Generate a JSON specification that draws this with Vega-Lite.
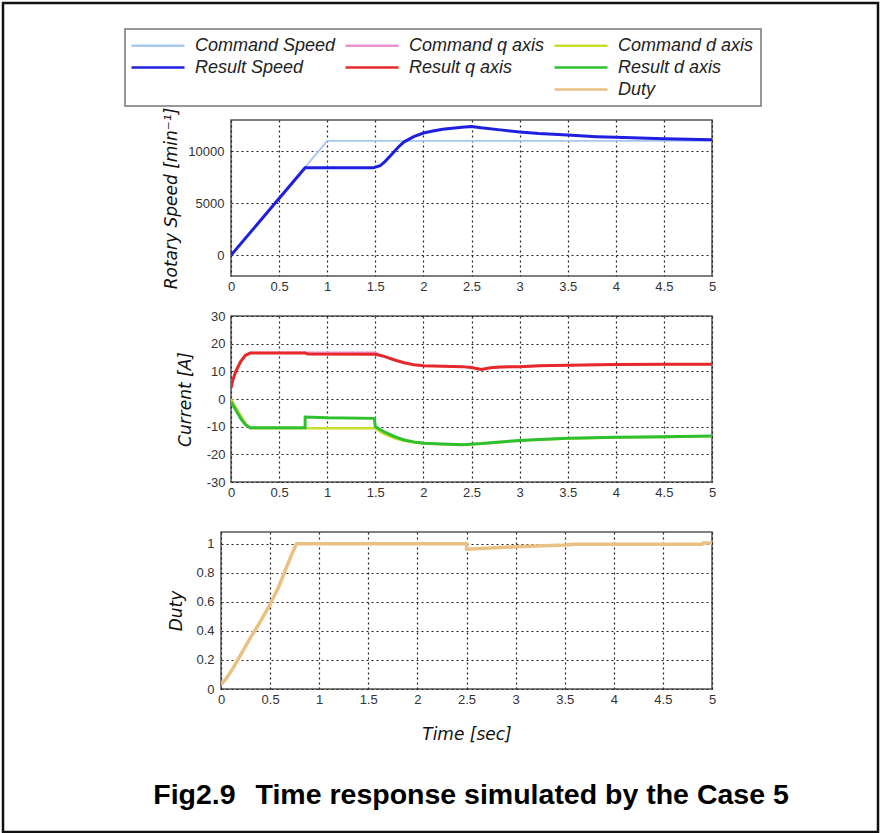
{
  "$schema": "https://vega.github.io/schema/vega-lite/v6.json",
  "background": "white",
  "padding": {"left": 1, "top": 1, "right": 1, "bottom": 1},
  "config": {
    "font": "Liberation Sans",
    "view": {"stroke": "#555", "strokeWidth": 1.5},
    "axis": {
      "grid": true, "gridColor": "#222", "gridDash": [2, 3], "gridWidth": 1.2,
      "domain": false, "ticks": false, "labelFlush": false, "labelOverlap": false,
      "labelFont": "Liberation Sans", "labelFontSize": 13, "labelColor": "#333",
      "titleFont": "DejaVu Sans", "titleFontStyle": "italic", "titleFontWeight": "normal",
      "titleFontSize": 17, "titleColor": "#111", "labelPadding": 4
    }
  },
  "datasets": {
    "speed": [
      {"t": 0, "v": 0, "s": "Command Speed"},
      {"t": 1.0, "v": 11000, "s": "Command Speed"},
      {"t": 5, "v": 11000, "s": "Command Speed"},
      {"t": 0, "v": 0, "s": "Result Speed"},
      {"t": 0.77, "v": 8400, "s": "Result Speed"},
      {"t": 1.48, "v": 8400, "s": "Result Speed"},
      {"t": 1.55, "v": 8600, "s": "Result Speed"},
      {"t": 1.6, "v": 9000, "s": "Result Speed"},
      {"t": 1.65, "v": 9500, "s": "Result Speed"},
      {"t": 1.7, "v": 10000, "s": "Result Speed"},
      {"t": 1.75, "v": 10500, "s": "Result Speed"},
      {"t": 1.8, "v": 10900, "s": "Result Speed"},
      {"t": 1.9, "v": 11400, "s": "Result Speed"},
      {"t": 2.0, "v": 11750, "s": "Result Speed"},
      {"t": 2.1, "v": 11950, "s": "Result Speed"},
      {"t": 2.2, "v": 12100, "s": "Result Speed"},
      {"t": 2.3, "v": 12200, "s": "Result Speed"},
      {"t": 2.4, "v": 12300, "s": "Result Speed"},
      {"t": 2.5, "v": 12380, "s": "Result Speed"},
      {"t": 2.6, "v": 12250, "s": "Result Speed"},
      {"t": 2.8, "v": 12050, "s": "Result Speed"},
      {"t": 3.0, "v": 11850, "s": "Result Speed"},
      {"t": 3.2, "v": 11700, "s": "Result Speed"},
      {"t": 3.5, "v": 11550, "s": "Result Speed"},
      {"t": 3.8, "v": 11400, "s": "Result Speed"},
      {"t": 4.0, "v": 11330, "s": "Result Speed"},
      {"t": 4.5, "v": 11200, "s": "Result Speed"},
      {"t": 5.0, "v": 11100, "s": "Result Speed"}
    ],
    "current": [
      {"t": 0, "i": 4, "s": "Command q axis"},
      {"t": 0.02, "i": 7, "s": "Command q axis"},
      {"t": 0.05, "i": 10, "s": "Command q axis"},
      {"t": 0.1, "i": 13.5, "s": "Command q axis"},
      {"t": 0.15, "i": 15.8, "s": "Command q axis"},
      {"t": 0.2, "i": 16.7, "s": "Command q axis"},
      {"t": 0.77, "i": 16.8, "s": "Command q axis"},
      {"t": 1.5, "i": 16.8, "s": "Command q axis"},
      {"t": 1.6, "i": 15.3, "s": "Command q axis"},
      {"t": 1.7, "i": 14.1, "s": "Command q axis"},
      {"t": 1.8, "i": 13.1, "s": "Command q axis"},
      {"t": 1.9, "i": 12.4, "s": "Command q axis"},
      {"t": 2.0, "i": 12.0, "s": "Command q axis"},
      {"t": 2.4, "i": 11.7, "s": "Command q axis"},
      {"t": 2.5, "i": 11.4, "s": "Command q axis"},
      {"t": 2.6, "i": 10.8, "s": "Command q axis"},
      {"t": 2.7, "i": 11.3, "s": "Command q axis"},
      {"t": 3.0, "i": 11.7, "s": "Command q axis"},
      {"t": 3.5, "i": 12.2, "s": "Command q axis"},
      {"t": 4.0, "i": 12.5, "s": "Command q axis"},
      {"t": 5.0, "i": 12.6, "s": "Command q axis"},
      {"t": 0, "i": 4, "s": "Result q axis"},
      {"t": 0.02, "i": 7, "s": "Result q axis"},
      {"t": 0.05, "i": 10, "s": "Result q axis"},
      {"t": 0.1, "i": 13.5, "s": "Result q axis"},
      {"t": 0.15, "i": 15.8, "s": "Result q axis"},
      {"t": 0.2, "i": 16.6, "s": "Result q axis"},
      {"t": 0.77, "i": 16.6, "s": "Result q axis"},
      {"t": 0.8, "i": 16.3, "s": "Result q axis"},
      {"t": 1.5, "i": 16.2, "s": "Result q axis"},
      {"t": 1.6, "i": 15.3, "s": "Result q axis"},
      {"t": 1.7, "i": 14.1, "s": "Result q axis"},
      {"t": 1.8, "i": 13.1, "s": "Result q axis"},
      {"t": 1.9, "i": 12.4, "s": "Result q axis"},
      {"t": 2.0, "i": 12.0, "s": "Result q axis"},
      {"t": 2.2, "i": 11.8, "s": "Result q axis"},
      {"t": 2.4, "i": 11.7, "s": "Result q axis"},
      {"t": 2.5, "i": 11.4, "s": "Result q axis"},
      {"t": 2.6, "i": 10.7, "s": "Result q axis"},
      {"t": 2.7, "i": 11.3, "s": "Result q axis"},
      {"t": 2.8, "i": 11.6, "s": "Result q axis"},
      {"t": 3.0, "i": 11.7, "s": "Result q axis"},
      {"t": 3.2, "i": 12.0, "s": "Result q axis"},
      {"t": 3.5, "i": 12.2, "s": "Result q axis"},
      {"t": 4.0, "i": 12.5, "s": "Result q axis"},
      {"t": 4.5, "i": 12.6, "s": "Result q axis"},
      {"t": 5.0, "i": 12.6, "s": "Result q axis"},
      {"t": 0, "i": 0, "s": "Command d axis"},
      {"t": 0.05, "i": -3, "s": "Command d axis"},
      {"t": 0.1, "i": -6, "s": "Command d axis"},
      {"t": 0.15, "i": -8.8, "s": "Command d axis"},
      {"t": 0.2, "i": -10.6, "s": "Command d axis"},
      {"t": 1.5, "i": -10.6, "s": "Command d axis"},
      {"t": 1.55, "i": -11.8, "s": "Command d axis"},
      {"t": 1.6, "i": -12.8, "s": "Command d axis"},
      {"t": 1.7, "i": -14.2, "s": "Command d axis"},
      {"t": 1.8, "i": -15.1, "s": "Command d axis"},
      {"t": 1.9, "i": -15.7, "s": "Command d axis"},
      {"t": 2.0, "i": -16.0, "s": "Command d axis"},
      {"t": 2.2, "i": -16.4, "s": "Command d axis"},
      {"t": 2.4, "i": -16.5, "s": "Command d axis"},
      {"t": 2.6, "i": -16.2, "s": "Command d axis"},
      {"t": 2.8, "i": -15.6, "s": "Command d axis"},
      {"t": 3.0, "i": -15.1, "s": "Command d axis"},
      {"t": 3.2, "i": -14.7, "s": "Command d axis"},
      {"t": 3.5, "i": -14.3, "s": "Command d axis"},
      {"t": 4.0, "i": -13.9, "s": "Command d axis"},
      {"t": 4.5, "i": -13.7, "s": "Command d axis"},
      {"t": 5.0, "i": -13.5, "s": "Command d axis"},
      {"t": 0, "i": -1, "s": "Result d axis"},
      {"t": 0.05, "i": -4, "s": "Result d axis"},
      {"t": 0.1, "i": -7, "s": "Result d axis"},
      {"t": 0.15, "i": -9.3, "s": "Result d axis"},
      {"t": 0.2, "i": -10.4, "s": "Result d axis"},
      {"t": 0.77, "i": -10.4, "s": "Result d axis"},
      {"t": 0.771, "i": -6.5, "s": "Result d axis"},
      {"t": 1.0, "i": -6.8, "s": "Result d axis"},
      {"t": 1.49, "i": -7.0, "s": "Result d axis"},
      {"t": 1.5, "i": -10.0, "s": "Result d axis"},
      {"t": 1.55, "i": -11.0, "s": "Result d axis"},
      {"t": 1.6, "i": -12.0, "s": "Result d axis"},
      {"t": 1.7, "i": -13.6, "s": "Result d axis"},
      {"t": 1.8, "i": -14.8, "s": "Result d axis"},
      {"t": 1.9, "i": -15.5, "s": "Result d axis"},
      {"t": 2.0, "i": -16.0, "s": "Result d axis"},
      {"t": 2.2, "i": -16.3, "s": "Result d axis"},
      {"t": 2.4, "i": -16.5, "s": "Result d axis"},
      {"t": 2.6, "i": -16.1, "s": "Result d axis"},
      {"t": 2.8, "i": -15.5, "s": "Result d axis"},
      {"t": 3.0, "i": -15.0, "s": "Result d axis"},
      {"t": 3.2, "i": -14.6, "s": "Result d axis"},
      {"t": 3.5, "i": -14.2, "s": "Result d axis"},
      {"t": 4.0, "i": -13.8, "s": "Result d axis"},
      {"t": 4.5, "i": -13.6, "s": "Result d axis"},
      {"t": 5.0, "i": -13.4, "s": "Result d axis"}
    ],
    "duty": [
      {"t": 0, "d": 0.03, "s": "Duty"},
      {"t": 0.05, "d": 0.07, "s": "Duty"},
      {"t": 0.12, "d": 0.14, "s": "Duty"},
      {"t": 0.2, "d": 0.235, "s": "Duty"},
      {"t": 0.31, "d": 0.365, "s": "Duty"},
      {"t": 0.38, "d": 0.44, "s": "Duty"},
      {"t": 0.49, "d": 0.57, "s": "Duty"},
      {"t": 0.586, "d": 0.7, "s": "Duty"},
      {"t": 0.716, "d": 0.92, "s": "Duty"},
      {"t": 0.77, "d": 1.0, "s": "Duty"},
      {"t": 2.5, "d": 1.0, "s": "Duty"},
      {"t": 2.501, "d": 0.962, "s": "Duty"},
      {"t": 3.0, "d": 0.978, "s": "Duty"},
      {"t": 3.5, "d": 0.99, "s": "Duty"},
      {"t": 3.6, "d": 0.995, "s": "Duty"},
      {"t": 4.9, "d": 0.995, "s": "Duty"},
      {"t": 4.91, "d": 1.005, "s": "Duty"},
      {"t": 5.0, "d": 1.005, "s": "Duty"}
    ],
    "frame": [
      {"k": 0},
      {"k": 1}
    ]
  },
  "columns": 1,
  "align": "none",
  "spacing": 31,
  "concat": [
    {
      "spacing": -63,
      "hconcat": [
        {
          "width": 1, "height": 1,
          "view": {"stroke": null},
          "data": {"values": [{"k": 0}]},
          "mark": {"type": "point", "opacity": 0},
          "encoding": {}
        },
        {
          "bounds": "flush",
          "spacing": 40,
          "vconcat": [
            {
              "width": 481, "height": 156,
              "data": {"name": "speed"},
              "mark": {"type": "line", "clip": true},
              "encoding": {
                "x": {"field": "t", "type": "quantitative", "scale": {"domain": [0, 5], "nice": false},
                      "axis": {"values": [0, 0.5, 1, 1.5, 2, 2.5, 3, 3.5, 4, 4.5, 5], "format": "~g", "title": null}},
                "y": {"field": "v", "type": "quantitative", "scale": {"domain": [-2000, 13000], "nice": false, "zero": false},
                      "axis": {"values": [0, 5000, 10000], "format": "d", "title": "Rotary Speed [min⁻¹]", "labelPadding": 7, "titlePadding": 7}},
                "color": {"field": "s", "type": "nominal",
                          "scale": {"domain": ["Command Speed", "Command q axis", "Command d axis", "Result Speed", "Result q axis", "Result d axis", " ", "  ", "Duty"],
                                    "range": ["#a8c8ee", "#ee92cf", "#c8de2c", "#1f1fe0", "#e6282a", "#2fc030", "transparent", "transparent", "#e9c283"]},
                          "legend": {"orient": "none", "legendX": -96, "legendY": -91, "title": null, "direction": "horizontal", "columns": 3,
                                     "symbolType": "M-1.25,0H5.375", "symbolSize": 256, "symbolStrokeWidth": 2.5,
                                     "labelFont": "Liberation Sans", "labelFontStyle": "italic", "labelFontSize": 18, "labelColor": "#222",
                                     "labelOffset": 44, "labelLimit": 300, "columnPadding": 4, "rowPadding": 3, "padding": 7,
                                     "strokeColor": "#777", "fillColor": "#fff",
                                     "encode": {"legend": {"update": {"strokeWidth": {"value": 1.5}}}}}},
                "strokeWidth": {"field": "s", "type": "nominal",
                                "scale": {"type": "ordinal", "domain": ["Command Speed", "Command q axis", "Command d axis", "Result Speed", "Result q axis", "Result d axis", "Duty"],
                                          "range": [1.8, 2, 2.5, 3, 3, 3, 3.5]},
                                "legend": null}
              }
            },
            {
              "width": 481, "height": 166,
              "data": {"name": "current"},
              "mark": {"type": "line", "clip": true},
              "encoding": {
                "x": {"field": "t", "type": "quantitative", "scale": {"domain": [0, 5], "nice": false},
                      "axis": {"values": [0, 0.5, 1, 1.5, 2, 2.5, 3, 3.5, 4, 4.5, 5], "format": "~g", "title": null}},
                "y": {"field": "i", "type": "quantitative", "scale": {"domain": [-30, 30], "nice": false, "zero": false},
                      "axis": {"values": [-30, -20, -10, 0, 10, 20, 30], "labelExpr": "replace(datum.label, '−', '-')", "title": "Current [A]", "labelPadding": 6, "titlePadding": 12}},
                "color": {"field": "s", "type": "nominal",
                          "scale": {"domain": ["Command Speed", "Command q axis", "Command d axis", "Result Speed", "Result q axis", "Result d axis", " ", "  ", "Duty"],
                                    "range": ["#a8c8ee", "#ee92cf", "#c8de2c", "#1f1fe0", "#e6282a", "#2fc030", "transparent", "transparent", "#e9c283"]},
                          "legend": {"orient": "none", "legendX": -96, "legendY": -91, "title": null, "direction": "horizontal", "columns": 3,
                                     "symbolType": "M-1.25,0H5.375", "symbolSize": 256, "symbolStrokeWidth": 2.5,
                                     "labelFont": "Liberation Sans", "labelFontStyle": "italic", "labelFontSize": 18, "labelColor": "#222",
                                     "labelOffset": 44, "labelLimit": 300, "columnPadding": 4, "rowPadding": 3, "padding": 7,
                                     "strokeColor": "#777", "fillColor": "#fff",
                                     "encode": {"legend": {"update": {"strokeWidth": {"value": 1.5}}}}}},
                "strokeWidth": {"field": "s", "type": "nominal",
                                "scale": {"type": "ordinal", "domain": ["Command Speed", "Command q axis", "Command d axis", "Result Speed", "Result q axis", "Result d axis", "Duty"],
                                          "range": [1.8, 2, 2.5, 3, 3, 3, 3.5]},
                                "legend": null}
              }
            }
          ]
        }
      ]
    },
    {
      "width": 491, "height": 157,
      "layer": [
        {
          "data": {"name": "duty"},
          "mark": {"type": "line", "clip": true},
          "encoding": {
            "x": {"field": "t", "type": "quantitative", "scale": {"domain": [0, 5], "nice": false},
                  "axis": {"values": [0, 0.5, 1, 1.5, 2, 2.5, 3, 3.5, 4, 4.5, 5], "format": "~g", "title": "Time [sec]", "titlePadding": 20}},
            "y": {"field": "d", "type": "quantitative", "scale": {"domain": [0, 1.08], "nice": false, "zero": false},
                  "axis": {"values": [0, 0.2, 0.4, 0.6, 0.8, 1], "format": "~g", "labelOverlap": false, "title": "Duty", "labelPadding": 7, "titlePadding": 10}},
            "color": {"field": "s", "type": "nominal",
                      "scale": {"domain": ["Command Speed", "Command q axis", "Command d axis", "Result Speed", "Result q axis", "Result d axis", " ", "  ", "Duty"],
                                "range": ["#a8c8ee", "#ee92cf", "#c8de2c", "#1f1fe0", "#e6282a", "#2fc030", "transparent", "transparent", "#e9c283"]},
                      "legend": {"orient": "none", "legendX": -96, "legendY": -91, "title": null, "direction": "horizontal", "columns": 3,
                                 "symbolType": "M-1.25,0H5.375", "symbolSize": 256, "symbolStrokeWidth": 2.5,
                                 "labelFont": "Liberation Sans", "labelFontStyle": "italic", "labelFontSize": 18, "labelColor": "#222",
                                 "labelOffset": 44, "labelLimit": 300, "columnPadding": 4, "rowPadding": 3, "padding": 7,
                                 "strokeColor": "#777", "fillColor": "#fff",
                                 "encode": {"legend": {"update": {"strokeWidth": {"value": 1.5}}}}}},
            "strokeWidth": {"field": "s", "type": "nominal",
                            "scale": {"type": "ordinal", "domain": ["Command Speed", "Command q axis", "Command d axis", "Result Speed", "Result q axis", "Result d axis", "Duty"],
                                      "range": [1.8, 2, 2.5, 3, 3, 3, 3.5]},
                            "legend": null}
          }
        },
        {
          "data": {"name": "frame"},
          "mark": {"type": "point", "opacity": 0, "filled": true},
          "encoding": {
            "fill": {"field": "k", "type": "quantitative", "scale": {"range": ["transparent", "transparent"]},
                     "legend": {"orient": "none", "legendX": -218, "legendY": -117,
                                "title": "Fig2.9\u2002\u2009Time response simulated by the Case 5",
                                "titleOrient": "bottom", "titleAnchor": "middle", "titlePadding": 0, "titleLimit": 900,
                                "titleFont": "Liberation Sans", "titleFontSize": 28.5, "titleFontWeight": "bold", "titleColor": "#000",
                                "direction": "vertical",
                                "gradientLength": 756, "gradientThickness": 831, "gradientStrokeWidth": 0,
                                "labelFontSize": 0, "labelOffset": 0, "labelExpr": "''", "padding": 22,
                                "strokeColor": "#111",
                                "encode": {"legend": {"update": {"strokeWidth": {"value": 2.5}}},
                                           "title": {"update": {"dx": {"value": 30}}}}}}
          }
        }
      ]
    }
  ]
}
